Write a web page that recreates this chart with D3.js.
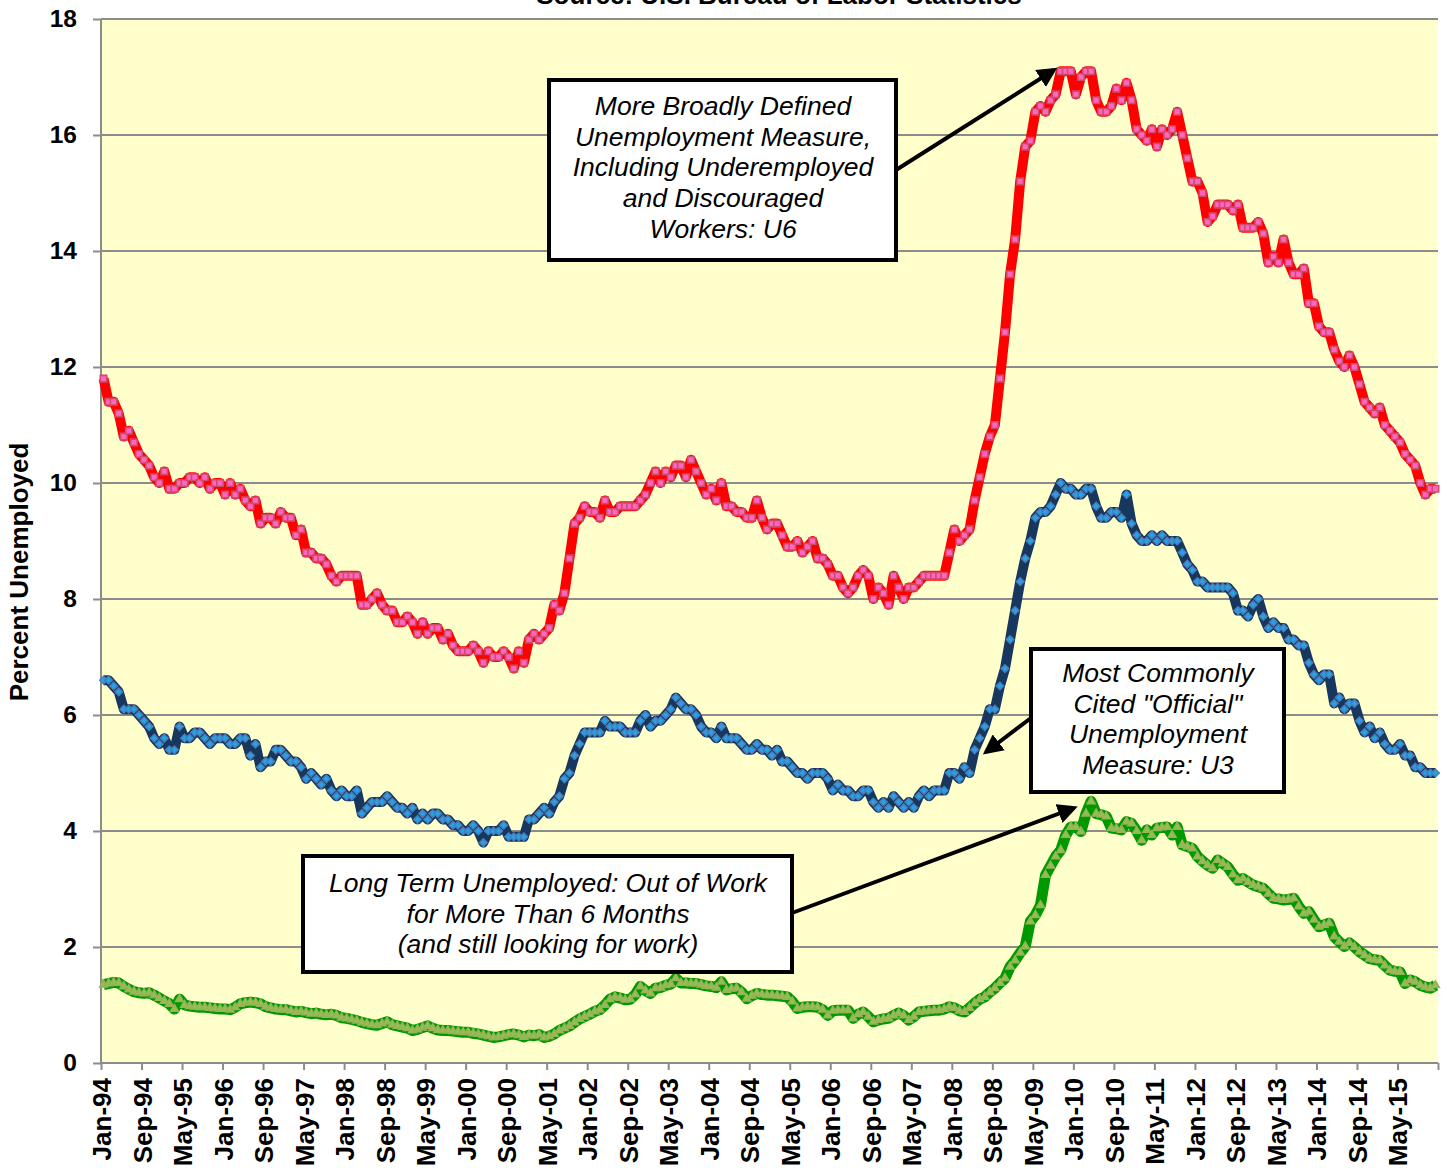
<!DOCTYPE html>
<html>
<head>
<meta charset="utf-8">
<script src="https://cdn.jsdelivr.net/npm/d3@7"></script>
<style>
  body { margin: 0; background: #fff; }
  svg { display: block; font-family: "Liberation Sans", Arial, sans-serif; }
</style>
</head>
<body>
<div id="chart"></div>
<script>
// monthly series, Jan-94 .. Dec-15 (percent of labor force)
var u6 = [
  11.8,11.4,11.4,11.2,10.8,10.9,10.7,10.5,10.4,10.3,10.1,10.0,
  10.2,9.9,9.9,10.0,10.0,10.1,10.1,10.0,10.1,9.9,10.0,10.0,
  9.8,10.0,9.8,9.9,9.7,9.6,9.7,9.3,9.4,9.4,9.3,9.5,
  9.4,9.4,9.1,9.2,8.8,8.8,8.7,8.7,8.6,8.4,8.3,8.4,
  8.4,8.4,8.4,7.9,7.9,8.0,8.1,7.9,7.8,7.8,7.6,7.6,
  7.7,7.6,7.4,7.6,7.4,7.5,7.5,7.3,7.4,7.2,7.1,7.1,
  7.1,7.2,7.1,6.9,7.1,7.0,7.0,7.1,7.0,6.8,7.1,6.9,
  7.3,7.4,7.3,7.4,7.5,7.9,7.8,8.1,8.7,9.3,9.4,9.6,
  9.5,9.5,9.4,9.7,9.5,9.5,9.6,9.6,9.6,9.6,9.7,9.8,
  10.0,10.2,10.0,10.2,10.1,10.3,10.3,10.1,10.4,10.2,10.0,9.8,
  9.9,9.7,10.0,9.6,9.6,9.5,9.5,9.4,9.4,9.7,9.4,9.2,
  9.3,9.3,9.1,8.9,8.9,9.0,8.8,8.9,9.0,8.7,8.7,8.6,
  8.4,8.4,8.2,8.1,8.2,8.4,8.5,8.4,8.0,8.2,8.1,7.9,
  8.4,8.2,8.0,8.2,8.2,8.3,8.4,8.4,8.4,8.4,8.4,8.8,
  9.2,9.0,9.1,9.2,9.7,10.1,10.5,10.8,11.0,11.8,12.6,13.6,
  14.2,15.2,15.8,15.9,16.4,16.5,16.4,16.6,16.7,17.1,17.1,17.1,
  16.7,17.0,17.1,17.1,16.6,16.4,16.4,16.5,16.8,16.6,16.9,16.6,
  16.1,16.0,15.9,16.1,15.8,16.1,16.0,16.1,16.4,16.0,15.6,15.2,
  15.2,15.0,14.5,14.6,14.8,14.8,14.8,14.7,14.8,14.4,14.4,14.4,
  14.5,14.3,13.8,13.9,13.8,14.2,13.8,13.6,13.6,13.7,13.1,13.1,
  12.7,12.6,12.6,12.3,12.1,12.0,12.2,12.0,11.7,11.4,11.3,11.2,
  11.3,11.0,10.9,10.8,10.7,10.5,10.4,10.3,10.0,9.8,9.9,9.9
];

var u3 = [
  6.6,6.6,6.5,6.4,6.1,6.1,6.1,6.0,5.9,5.8,5.6,5.5,
  5.6,5.4,5.4,5.8,5.6,5.6,5.7,5.7,5.6,5.5,5.6,5.6,
  5.6,5.5,5.5,5.6,5.6,5.3,5.5,5.1,5.2,5.2,5.4,5.4,
  5.3,5.2,5.2,5.1,4.9,5.0,4.9,4.8,4.9,4.7,4.6,4.7,
  4.6,4.6,4.7,4.3,4.4,4.5,4.5,4.5,4.6,4.5,4.4,4.4,
  4.3,4.4,4.2,4.3,4.2,4.3,4.3,4.2,4.2,4.1,4.1,4.0,
  4.0,4.1,4.0,3.8,4.0,4.0,4.0,4.1,3.9,3.9,3.9,3.9,
  4.2,4.2,4.3,4.4,4.3,4.5,4.6,4.9,5.0,5.3,5.5,5.7,
  5.7,5.7,5.7,5.9,5.8,5.8,5.8,5.7,5.7,5.7,5.9,6.0,
  5.8,5.9,5.9,6.0,6.1,6.3,6.2,6.1,6.1,6.0,5.8,5.7,
  5.7,5.6,5.8,5.6,5.6,5.6,5.5,5.4,5.4,5.5,5.4,5.4,
  5.3,5.4,5.2,5.2,5.1,5.0,5.0,4.9,5.0,5.0,5.0,4.9,
  4.7,4.8,4.7,4.7,4.6,4.6,4.7,4.7,4.5,4.4,4.5,4.4,
  4.6,4.5,4.4,4.5,4.4,4.6,4.7,4.6,4.7,4.7,4.7,5.0,
  5.0,4.9,5.1,5.0,5.4,5.6,5.8,6.1,6.1,6.5,6.8,7.3,
  7.8,8.3,8.7,9.0,9.4,9.5,9.5,9.6,9.8,10.0,9.9,9.9,
  9.8,9.8,9.9,9.9,9.6,9.4,9.4,9.5,9.5,9.4,9.8,9.3,
  9.1,9.0,9.0,9.1,9.0,9.1,9.0,9.0,9.0,8.8,8.6,8.5,
  8.3,8.3,8.2,8.2,8.2,8.2,8.2,8.1,7.8,7.8,7.7,7.9,
  8.0,7.7,7.5,7.6,7.5,7.5,7.3,7.3,7.2,7.2,6.9,6.7,
  6.6,6.7,6.7,6.2,6.3,6.1,6.2,6.2,5.9,5.7,5.8,5.6,
  5.7,5.5,5.4,5.4,5.5,5.3,5.3,5.1,5.1,5.0,5.0,5.0
];

var longTerm = [
  1.35,1.37,1.39,1.38,1.32,1.27,1.23,1.21,1.20,1.21,1.17,1.12,
  1.07,1.02,0.93,1.10,1.00,0.98,0.97,0.96,0.96,0.95,0.94,0.93,
  0.93,0.92,0.96,1.02,1.04,1.05,1.04,1.02,0.97,0.95,0.93,0.92,
  0.92,0.90,0.88,0.89,0.87,0.85,0.86,0.84,0.83,0.84,0.82,0.78,
  0.77,0.75,0.73,0.70,0.68,0.66,0.65,0.68,0.71,0.66,0.64,0.62,
  0.60,0.56,0.58,0.61,0.64,0.60,0.57,0.56,0.56,0.55,0.54,0.53,
  0.53,0.51,0.50,0.48,0.46,0.44,0.45,0.47,0.49,0.50,0.48,0.45,
  0.48,0.47,0.49,0.44,0.46,0.50,0.56,0.60,0.64,0.70,0.76,0.80,
  0.84,0.89,0.92,1.00,1.10,1.14,1.12,1.09,1.10,1.18,1.32,1.25,
  1.20,1.29,1.30,1.34,1.36,1.46,1.38,1.38,1.37,1.37,1.35,1.33,
  1.32,1.30,1.40,1.26,1.28,1.29,1.22,1.11,1.16,1.20,1.18,1.17,
  1.17,1.16,1.15,1.14,1.06,0.94,0.96,0.97,0.97,0.96,0.92,0.82,
  0.90,0.91,0.91,0.91,0.77,0.84,0.88,0.80,0.71,0.74,0.76,0.77,
  0.82,0.86,0.82,0.74,0.80,0.88,0.89,0.90,0.91,0.91,0.93,0.97,
  0.95,0.90,0.88,0.95,1.03,1.10,1.14,1.22,1.29,1.38,1.46,1.66,
  1.77,1.90,2.01,2.44,2.55,2.72,3.24,3.40,3.56,3.67,3.93,4.07,
  4.07,3.99,4.30,4.51,4.30,4.28,4.25,4.05,4.04,4.02,4.16,4.13,
  4.00,3.84,4.02,3.93,4.05,4.06,4.07,3.93,4.07,3.76,3.73,3.70,
  3.56,3.48,3.41,3.36,3.50,3.44,3.38,3.25,3.15,3.18,3.12,3.07,
  3.04,3.01,2.92,2.84,2.83,2.81,2.82,2.84,2.70,2.58,2.61,2.47,
  2.35,2.38,2.41,2.18,2.09,2.01,2.07,2.00,1.92,1.86,1.80,1.78,
  1.77,1.68,1.60,1.58,1.57,1.37,1.43,1.40,1.34,1.31,1.29,1.34
];

var yTicks = [0, 2, 4, 6, 8, 10, 12, 14, 16, 18];
var months = d3.timeMonth.range(new Date(1994, 0, 1), new Date(2016, 0, 1))
    .map(d3.timeFormat("%b-%y"));

var w = 1447, h = 1170;
var margin = {top: 19, right: 9, bottom: 107, left: 101};

var svg = d3.select("#chart").append("svg")
    .attr("width", w)
    .attr("height", h);

var x = d3.scaleLinear().domain([0, months.length]).range([margin.left, w - margin.right]);
var y = d3.scaleLinear().domain([0, 18]).range([h - margin.bottom, margin.top]);
var cx = function(i){ return x(i + 0.5); };

// plot background
svg.append("rect")
    .attr("x", x(0)).attr("y", y(18))
    .attr("width", x(months.length) - x(0))
    .attr("height", y(0) - y(18))
    .attr("fill", "#ffffcc");

// gridlines
svg.selectAll(".grid")
    .data(yTicks.slice(1))
    .enter().append("line")
    .attr("class", "grid")
    .attr("x1", x(0)).attr("x2", x(months.length))
    .attr("y1", function(d){ return y(d); })
    .attr("y2", function(d){ return y(d); })
    .attr("stroke", "#8c8c8c")
    .attr("stroke-width", 2);

// y axis
var yAxis = svg.append("g")
    .attr("transform", "translate(" + x(0) + ",0)")
    .call(d3.axisLeft(y).tickValues(yTicks).tickSize(8).tickPadding(16));
yAxis.selectAll("path, line").attr("stroke", "#8c8c8c").attr("stroke-width", 2);
yAxis.select(".domain").attr("d", "M0," + y(0) + "V" + y(18));
yAxis.selectAll("text")
    .attr("fill", "#000")
    .style("font-size", "24.5px")
    .style("font-weight", "bold")
    .style("font-family", "'Liberation Sans', Arial, sans-serif");

// x axis
var xAxis = svg.append("g")
    .attr("transform", "translate(0," + y(0) + ")")
    .call(d3.axisBottom(x)
        .tickValues(d3.range(0, months.length + 1, 8))
        .tickSize(7)
        .tickFormat(function(d){ return d < months.length ? months[d] : ""; }));
xAxis.selectAll("path, line").attr("stroke", "#8c8c8c").attr("stroke-width", 2);
xAxis.select(".domain").attr("d", "M" + x(0) + ",0H" + x(months.length));
xAxis.selectAll("text")
    .attr("fill", "#000")
    .attr("transform", "rotate(-90)")
    .attr("x", -15)
    .attr("y", 9.5)
    .attr("dy", 0)
    .attr("text-anchor", "end")
    .style("font-size", "26px")
    .style("font-weight", "bold")
    .style("font-family", "'Liberation Sans', Arial, sans-serif");

// axis title
svg.append("text")
    .attr("transform", "translate(28,572) rotate(-90)")
    .attr("text-anchor", "middle")
    .style("font-size", "26px")
    .style("font-weight", "bold")
    .text("Percent Unemployed");

// source line, cut off at the top as in the original
svg.append("text")
    .attr("x", 779).attr("y", 4)
    .attr("text-anchor", "middle")
    .style("font-size", "26px")
    .style("font-weight", "bold")
    .text("Source:  U.S. Bureau of Labor Statistics");

var line = d3.line()
    .x(function(d, i){ return cx(i); })
    .y(function(d){ return y(d); });

function drawSeries(values, lineColor, width, symbol, fill, stroke, rot) {
    svg.append("path")
        .datum(values)
        .attr("d", line)
        .attr("fill", "none")
        .attr("stroke", lineColor)
        .attr("stroke-width", width)
        .attr("stroke-linejoin", "round");
    svg.append("g").selectAll("path")
        .data(values)
        .enter().append("path")
        .attr("d", symbol)
        .attr("transform", function(d, i){
            return "translate(" + cx(i) + "," + y(d) + ") rotate(" + rot + ")";
        })
        .attr("fill", fill)
        .attr("stroke", stroke)
        .attr("stroke-width", 1.6);
}

drawSeries(u6, "#ff0000", 10, d3.symbol().type(d3.symbolSquare).size(42)(), "#ff66c4", "#d04a6a", 0);
drawSeries(u3, "#17375e", 10, d3.symbol().type(d3.symbolSquare).size(28)(), "#1ea7ea", "#4a7ebb", 45);
drawSeries(longTerm, "#009900", 11, d3.symbol().type(d3.symbolTriangle).size(26)(), "#9bbb59", "#93b556", 0);

// annotation boxes
var notes = [
    {x0: 549, y0: 80, x1: 896, y1: 260, cx: 723, lines: ["More Broadly Defined", "Unemployment Measure,", "Including Underemployed", "and Discouraged", "Workers:  U6"], base: 115},
    {x0: 1031, y0: 649, x1: 1284, y1: 792, cx: 1158, lines: ["Most Commonly", "Cited \"Official\"", "Unemployment", "Measure:  U3"], base: 682},
    {x0: 303, y0: 856, x1: 792, y1: 972, cx: 548, lines: ["Long Term Unemployed: Out of Work", "for More Than 6 Months", "(and still looking for work)"], base: 892}
];
var arrows = [
    [896, 170, 1054, 70],
    [1031, 718, 986, 752],
    [792, 913, 1074, 808]
];

svg.append("defs").append("marker")
    .attr("id", "head")
    .attr("viewBox", "0 0 10 10")
    .attr("refX", 8).attr("refY", 5)
    .attr("markerWidth", 5).attr("markerHeight", 5)
    .attr("markerUnits", "strokeWidth")
    .attr("orient", "auto")
  .append("path")
    .attr("d", "M0,0L10,5L0,10z")
    .attr("fill", "#000");

svg.selectAll(".arrow")
    .data(arrows)
    .enter().append("line")
    .attr("class", "arrow")
    .attr("x1", function(d){ return d[0]; })
    .attr("y1", function(d){ return d[1]; })
    .attr("x2", function(d){ return d[2]; })
    .attr("y2", function(d){ return d[3]; })
    .attr("stroke", "#000")
    .attr("stroke-width", 4)
    .attr("marker-end", "url(#head)");

var box = svg.selectAll(".note")
    .data(notes)
    .enter().append("g")
    .attr("class", "note");
box.append("rect")
    .attr("x", function(d){ return d.x0; })
    .attr("y", function(d){ return d.y0; })
    .attr("width", function(d){ return d.x1 - d.x0; })
    .attr("height", function(d){ return d.y1 - d.y0; })
    .attr("fill", "#fff")
    .attr("stroke", "#000")
    .attr("stroke-width", 4);
box.each(function(d){
    d3.select(this).selectAll("text")
        .data(d.lines)
        .enter().append("text")
        .attr("x", d.cx)
        .attr("y", function(t, i){ return d.base + i * 30.7; })
        .attr("text-anchor", "middle")
        .style("font-size", "26.5px")
        .style("font-style", "italic")
        .text(function(t){ return t; });
});
</script>
</body>
</html>
